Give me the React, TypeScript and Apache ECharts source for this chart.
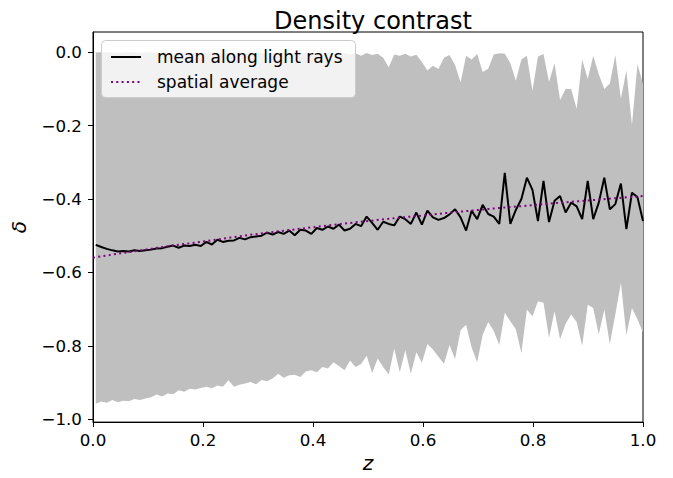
import React, { useEffect, useRef } from "react";
import * as echarts from "echarts";

const N = 100;
// z grid (positions of samples along redshift)
const Z: number[] = Array.from({ length: N }, (_, k) => +(0.005 + (k * 0.995) / (N - 1)).toFixed(4));

const MEAN: number[] = [
  -0.525, -0.531, -0.536, -0.540, -0.543, -0.542, -0.543, -0.540, -0.542, -0.540,
  -0.538, -0.535, -0.534, -0.530, -0.527, -0.533, -0.527, -0.528, -0.525, -0.528,
  -0.517, -0.524, -0.511, -0.517, -0.514, -0.513, -0.506, -0.510, -0.504, -0.502,
  -0.500, -0.492, -0.497, -0.490, -0.495, -0.486, -0.499, -0.484, -0.486, -0.495,
  -0.479, -0.484, -0.475, -0.481, -0.470, -0.486, -0.481, -0.468, -0.474, -0.448,
  -0.465, -0.484, -0.462, -0.468, -0.472, -0.448, -0.455, -0.468, -0.437, -0.470,
  -0.432, -0.450, -0.457, -0.452, -0.442, -0.428, -0.450, -0.486, -0.432, -0.455,
  -0.416, -0.441, -0.448, -0.468, -0.329, -0.468, -0.430, -0.400, -0.342, -0.375,
  -0.460, -0.351, -0.463, -0.405, -0.392, -0.437, -0.410, -0.420, -0.455, -0.351,
  -0.455, -0.410, -0.342, -0.428, -0.414, -0.358, -0.482, -0.383, -0.395, -0.460,
];

const UPPER: number[] = [
  -0.001, 0.000, -0.001, 0.000, -0.002, -0.001, 0.000, -0.001, -0.002, 0.000,
  -0.001, -0.002, 0.000, -0.001, -0.003, -0.001, 0.000, -0.002, -0.001, -0.003,
  -0.001, 0.000, -0.002, -0.004, -0.001, -0.002, 0.000, -0.003, -0.001, -0.002,
  -0.004, -0.001, -0.002, -0.005, -0.001, -0.003, -0.002, -0.006, -0.001, -0.003,
  -0.002, -0.005, -0.001, -0.004, -0.008, -0.002, -0.006, -0.003, -0.010, -0.002,
  -0.008, -0.004, -0.015, -0.041, -0.006, -0.010, -0.004, -0.012, -0.007, -0.027,
  -0.050, -0.037, -0.046, -0.015, -0.008, -0.035, -0.082, -0.010, -0.020, -0.005,
  -0.054, -0.045, -0.006, -0.003, -0.004, -0.030, -0.078, -0.020, -0.010, -0.105,
  -0.012, -0.005, -0.081, -0.030, -0.130, -0.100, -0.100, -0.154, -0.020, -0.073,
  -0.010, -0.060, -0.100, -0.085, -0.008, -0.127, -0.050, -0.199, -0.033, -0.087,
];

const LOWER: number[] = [
  -0.958, -0.952, -0.955, -0.948, -0.954, -0.950, -0.951, -0.945, -0.948, -0.944,
  -0.940, -0.933, -0.938, -0.930, -0.932, -0.921, -0.925, -0.917, -0.919, -0.915,
  -0.912, -0.916, -0.908, -0.912, -0.894, -0.912, -0.906, -0.903, -0.899, -0.905,
  -0.893, -0.897, -0.889, -0.876, -0.887, -0.880, -0.879, -0.885, -0.870, -0.867,
  -0.872, -0.858, -0.862, -0.845, -0.855, -0.867, -0.840, -0.858, -0.850, -0.827,
  -0.874, -0.835, -0.858, -0.878, -0.808, -0.872, -0.812, -0.876, -0.818, -0.846,
  -0.795, -0.810, -0.830, -0.849, -0.798, -0.836, -0.758, -0.743, -0.805, -0.845,
  -0.770, -0.735, -0.760, -0.798, -0.710, -0.733, -0.755, -0.820, -0.701, -0.720,
  -0.679, -0.683, -0.778, -0.706, -0.782, -0.740, -0.715, -0.735, -0.800, -0.688,
  -0.697, -0.769, -0.701, -0.795, -0.715, -0.628, -0.771, -0.697, -0.728, -0.764,
];

const AVG_Z: number[] = [0, 0.05, 0.1, 0.15, 0.2, 0.25, 0.3, 0.35, 0.4, 0.45, 0.5, 0.55, 0.6, 0.65, 0.7, 0.75, 0.8, 0.85, 0.9, 0.95, 1.0];
const AVG: number[] = [
  -0.560, -0.548, -0.537, -0.526, -0.516, -0.505, -0.495, -0.486, -0.477, -0.468,
  -0.460, -0.452, -0.445, -0.437, -0.430, -0.423, -0.417, -0.410, -0.404, -0.398, -0.392,
];

const X_TICKS = [0, 0.2, 0.4, 0.6, 0.8, 1.0];
const Y_TICKS = [-1.0, -0.8, -0.6, -0.4, -0.2, 0.0];

const FONT = "DejaVu Sans";
const TICK_FS = 16.7;
const LEG_FS = 17;

const fmt = (v: number) => (v < -1e-9 ? "\u2212" : "") + Math.abs(v).toFixed(1);

export default function App() {
  const ref = useRef<HTMLDivElement>(null);
  useEffect(() => {
    if (!ref.current) return;
    const chart = echarts.init(ref.current, undefined, { renderer: "svg" });
    const option: any = {
      animation: false,
      backgroundColor: "#ffffff",
      title: {
        text: "Density contrast",
        left: 368,
        textAlign: "center",
        top: 4,
        textStyle: { fontFamily: FONT, fontSize: 24, fontWeight: "normal", color: "#000" },
      },
      grid: {
        left: 93,
        right: 30,
        top: 32,
        bottom: 51,
        show: true,
        borderColor: "#000",
        borderWidth: 1,
        backgroundColor: "#fff",
      },
      xAxis: {
        type: "value",
        min: 0,
        max: 1,
        interval: 0.2,
        name: "z",
        nameLocation: "middle",
        nameGap: 30,
        nameTextStyle: { fontFamily: FONT, fontSize: 20, fontStyle: "italic", color: "#000" },
        axisLine: { show: true, onZero: false, lineStyle: { color: "#000", width: 1 } },
        axisTick: { show: true, inside: false, length: 5, lineStyle: { color: "#000" }, customValues: X_TICKS },
        axisLabel: {
          fontFamily: FONT,
          fontSize: TICK_FS,
          color: "#000",
          margin: 9,
          customValues: X_TICKS,
          formatter: (v: number) => fmt(v),
        },
        splitLine: { show: false },
      },
      yAxis: {
        type: "value",
        min: -1.008,
        max: 0.055,
        name: "\u03b4",
        nameLocation: "middle",
        nameGap: 64,
        nameTextStyle: { fontFamily: FONT, fontSize: 20, fontStyle: "italic", color: "#000" },
        axisLine: { show: true, onZero: false, lineStyle: { color: "#000", width: 1 } },
        axisTick: { show: true, inside: false, length: 5, lineStyle: { color: "#000" }, customValues: Y_TICKS },
        axisLabel: {
          fontFamily: FONT,
          fontSize: TICK_FS,
          color: "#000",
          margin: 11,
          customValues: Y_TICKS,
          formatter: (v: number) => fmt(v),
        },
        splitLine: { show: false },
      },
      series: [
        {
          type: "custom",
          name: "band",
          silent: true,
          z: 1,
          data: Z.map((z, i) => [z, UPPER[i], LOWER[i]]),
          encode: { x: 0, y: [1, 2] },
          renderItem: (params: any, api: any) => {
            if (params.dataIndex !== 0) return null;
            const pts: number[][] = [];
            for (let i = 0; i < Z.length; i++) pts.push(api.coord([Z[i], UPPER[i]]));
            for (let i = Z.length - 1; i >= 0; i--) pts.push(api.coord([Z[i], LOWER[i]]));
            return {
              type: "polygon",
              shape: { points: pts },
              style: { fill: "#bfbfbf", stroke: "none" },
            };
          },
        },
        {
          type: "line",
          name: "mean along light rays",
          data: Z.map((z, i) => [z, MEAN[i]]),
          showSymbol: false,
          z: 3,
          lineStyle: { color: "#000", width: 2 },
        },
        {
          type: "line",
          name: "spatial average",
          data: AVG_Z.map((z, i) => [z, AVG[i]]),
          showSymbol: false,
          z: 4,
          lineStyle: { color: "#800080", width: 2, type: [2, 3.3] },
        },
      ],
      graphic: [
        {
          type: "group",
          z: 100,
          children: [
            {
              type: "rect",
              shape: { x: 101.5, y: 40.5, width: 254, height: 57, r: 4 },
              style: { fill: "rgba(255,255,255,0.8)", stroke: "#cccccc", lineWidth: 1 },
              z: 100,
            },
            {
              type: "line",
              shape: { x1: 111, y1: 57, x2: 141, y2: 57 },
              style: { stroke: "#000", lineWidth: 2 },
              z: 101,
            },
            {
              type: "text",
              x: 157,
              y: 57,
              style: { text: "mean along light rays", fontFamily: FONT, fontSize: LEG_FS, fill: "#000", verticalAlign: "middle" },
              z: 101,
            },
            {
              type: "line",
              shape: { x1: 111, y1: 82, x2: 141, y2: 82 },
              style: { stroke: "#800080", lineWidth: 2, lineDash: [2, 3.3] },
              z: 101,
            },
            {
              type: "text",
              x: 157,
              y: 82,
              style: { text: "spatial average", fontFamily: FONT, fontSize: LEG_FS, fill: "#000", verticalAlign: "middle" },
              z: 101,
            },
          ],
        },
      ],
    };
    chart.setOption(option);
    return () => chart.dispose();
  }, []);
  return (
    <div
      ref={ref}
      style={{ position: "fixed", left: 0, top: 0, width: 673, height: 478, background: "#fff" }}
    />
  );
}
